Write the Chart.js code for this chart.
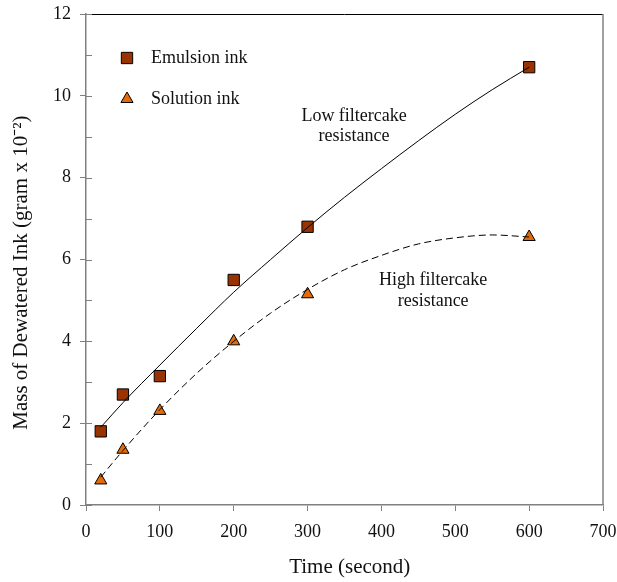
<!DOCTYPE html>
<html>
<head>
<meta charset="utf-8">
<script src="https://cdn.jsdelivr.net/npm/chart.js@4.4.0/dist/chart.umd.min.js"></script>
<style>
  html, body { margin: 0; padding: 0; background: #fff; }
</style>
</head>
<body>
<canvas id="myChart" width="617" height="582"></canvas>
<script>
// Measured points
var timeSec = [20, 50, 100, 200, 300, 600];
var emulsionInk = [1.8, 2.7, 3.15, 5.5, 6.8, 10.7];
var solutionInk = [0.6, 1.35, 2.3, 4.0, 5.15, 6.55];

// Trend curves
var trendTime = [20, 50, 100, 150, 200, 250, 300, 350, 400, 450, 500, 550, 600];
var lowResTrend = [1.9, 2.5, 3.42, 4.32, 5.2, 6.0, 6.78, 7.52, 8.22, 8.9, 9.55, 10.15, 10.7];
var highResTrend = [0.68, 1.33, 2.33, 3.22, 4.0, 4.69, 5.27, 5.75, 6.1, 6.38, 6.53, 6.6, 6.55];

// Axis ticks
var xTickValues = [0, 100, 200, 300, 400, 500, 600, 700];
var yTickValues = [0, 2, 4, 6, 8, 10, 12];

// Text notes on the plot
var noteLines = ['Low filtercake', 'resistance', 'High filtercake', 'resistance'];
var noteX = [363, 363, 470, 470];
var noteY = [9.5, 9.0, 5.5, 4.97];

var legendLabels = ['Emulsion ink', 'Solution ink'];

var serif = '"Liberation Serif", "Times New Roman", serif';
var squareColor = '#993300';
var triangleColor = '#e36c0a';

function pairs(xs, ys) {
    return xs.map(function(x, i){ return {x: x, y: ys[i]}; });
}

// Extra drawing: frame, inner ticks, notes, legend
var extrasPlugin = {
    id: 'extras',
    afterDraw: function(chart) {
        var ctx = chart.ctx;
        var xs = chart.scales.x, ys = chart.scales.y;
        var area = chart.chartArea;
        ctx.save();

        //top and right border
        ctx.lineWidth = 1;
        ctx.strokeStyle = '#000';
        ctx.beginPath();
        ctx.moveTo(area.left, area.top + 0.5);
        ctx.lineTo(area.right, area.top + 0.5);
        ctx.stroke();
        ctx.lineWidth = 1.5;
        ctx.strokeStyle = '#808080';
        ctx.beginPath();
        ctx.moveTo(area.right, area.top);
        ctx.lineTo(area.right, area.bottom);
        ctx.stroke();

        //inner y ticks at every unit
        ctx.lineWidth = 1;
        ctx.beginPath();
        for (var v = 0; v <= 12; v++) {
            var py = Math.round(ys.getPixelForValue(v)) + 0.5;
            ctx.moveTo(area.left, py);
            ctx.lineTo(area.left + 6, py);
        }
        ctx.stroke();

        //notes
        ctx.fillStyle = '#111';
        ctx.font = '18px ' + serif;
        ctx.textAlign = 'center';
        ctx.textBaseline = 'middle';
        noteLines.forEach(function(t, i){
            ctx.fillText(t, xs.getPixelForValue(noteX[i]), ys.getPixelForValue(noteY[i]));
        });

        //legend
        var styles = ['rect', 'triangle'];
        var fills = [squareColor, triangleColor];
        var radii = [8, 7];
        legendLabels.forEach(function(t, i){
            var lx = area.left + 41;
            var ly = area.top + 44 + i * 41;
            ctx.fillStyle = fills[i];
            ctx.strokeStyle = '#000';
            ctx.lineWidth = 1;
            Chart.helpers.drawPoint(ctx, {pointStyle: styles[i], radius: radii[i], rotation: 0, borderWidth: 1}, lx, ly);
            ctx.fillStyle = '#111';
            ctx.textAlign = 'left';
            ctx.fillText(t, lx + 24, ly);
        });
        ctx.restore();
    }
};

var chart = document.getElementById('myChart');
var myChart = new Chart(chart, {
    type: 'scatter',
    data: {
        datasets: [{
            label: 'Low filtercake resistance',
            data: pairs(trendTime, lowResTrend),
            showLine: true,
            borderColor: '#000',
            borderWidth: 1,
            pointRadius: 0,
            cubicInterpolationMode: 'monotone',
            order: 0
        }, {
            label: 'High filtercake resistance',
            data: pairs(trendTime, highResTrend),
            showLine: true,
            borderColor: '#000',
            borderWidth: 1,
            borderDash: [7, 4],
            pointRadius: 0,
            cubicInterpolationMode: 'monotone',
            order: 0
        }, {
            label: legendLabels[0],
            data: pairs(timeSec, emulsionInk),
            pointStyle: 'rect',
            pointRadius: 8,
            backgroundColor: squareColor,
            borderColor: '#000',
            borderWidth: 1,
            order: 1
        }, {
            label: legendLabels[1],
            data: pairs(timeSec, solutionInk),
            pointStyle: 'triangle',
            pointRadius: 7,
            backgroundColor: triangleColor,
            borderColor: '#000',
            borderWidth: 1,
            order: 1
        }]
    },
    options: {
        responsive: false,
        animation: false,
        layout: { padding: { top: 14, right: 14, left: 0, bottom: 0 } },
        plugins: {
            legend: { display: false },
            tooltip: { enabled: false }
        },
        scales: {
            x: {
                min: 0,
                max: 700,
                afterBuildTicks: function(scale){
                    scale.ticks = xTickValues.map(function(v){ return {value: v}; });
                },
                afterFit: function(scale){
                    scale.height = 77;
                    scale.paddingLeft = 0;
                    scale.paddingRight = 0;
                },
                grid: { display: true, drawOnChartArea: false, tickLength: 6, color: '#808080' },
                border: { color: '#808080', width: 1.5 },
                ticks: { color: '#111', font: { family: serif, size: 18 }, padding: 10, maxRotation: 0 },
                title: {
                    display: true,
                    text: '\u2002Time (second)',
                    color: '#111',
                    font: { family: serif, size: 21 },
                    padding: { top: 0, bottom: 2 }
                }
            },
            y: {
                min: 0,
                max: 12,
                afterBuildTicks: function(scale){
                    scale.ticks = yTickValues.map(function(v){ return {value: v}; });
                },
                afterFit: function(scale){
                    scale.width = 86;
                    scale.paddingTop = 0;
                    scale.paddingBottom = 0;
                },
                grid: { display: true, drawOnChartArea: false, tickLength: 6, color: '#808080' },
                border: { color: '#808080', width: 1.5 },
                ticks: { color: '#111', font: { family: serif, size: 18 }, padding: 9 },
                title: {
                    display: true,
                    text: 'Mass of Dewatered Ink (gram x 10\u207B\u00B2)\u2003 ',
                    color: '#111',
                    font: { family: serif, size: 21 },
                    padding: { top: 9, bottom: 0 }
                }
            }
        }
    },
    plugins: [extrasPlugin]
});
</script>
</body>
</html>
